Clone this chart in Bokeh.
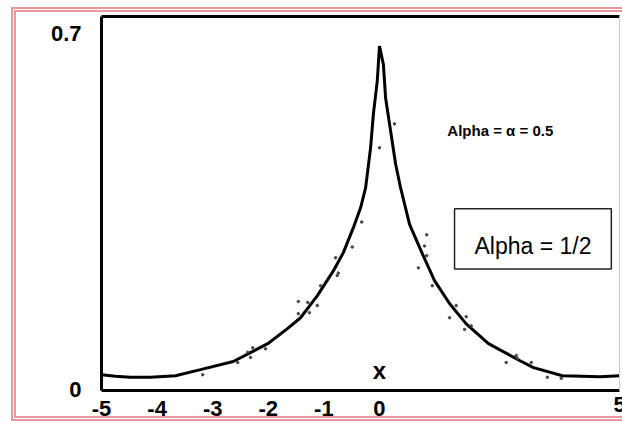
from bokeh.plotting import figure
from bokeh.models import (Range1d, LinearAxis, FixedTicker, Label,
                          BoxAnnotation, InlineStyleSheet)
from bokeh.embed import file_html
from bokeh.resources import INLINE

# Density curve f(x) (left tail -> peak -> right tail)
curve_x = [-5.0, -4.75, -4.48, -4.12, -3.67, -3.22, -2.63, -2.01, -1.65, -1.42, -1.12,
           -0.83, -0.65, -0.47, -0.34, -0.25, -0.16, -0.11, -0.04, 0.0,
           0.07, 0.11, 0.20, 0.29, 0.38, 0.54, 0.59, 0.77, 0.99, 1.26, 1.56,
           1.96, 2.52, 2.77, 3.29, 3.97, 4.32]
curve_y = [0.029, 0.026, 0.024, 0.024, 0.027, 0.039, 0.055, 0.090, 0.120, 0.141, 0.184,
           0.233, 0.269, 0.318, 0.357, 0.396, 0.475, 0.541, 0.606, 0.675,
           0.639, 0.573, 0.508, 0.443, 0.396, 0.325, 0.312, 0.267, 0.214, 0.169, 0.129,
           0.090, 0.057, 0.043, 0.027, 0.025, 0.027]

# Scattered sample points around the curve
sample_x = [-0.79, -0.74, -0.76, -1.06, -1.46, -1.29, -1.12, -1.46, -1.26,
            -2.28, -2.37, -2.32, -2.05, -2.55, -3.18, -0.32, -0.49, 0.0, 0.27,
            0.85, 0.81, 0.85, 0.70, 0.95, 1.38, 1.26, 1.56, 1.53, 1.65,
            2.28, 2.46, 2.48, 2.73, 3.02, 3.27]
sample_y = [0.259, 0.229, 0.224, 0.204, 0.173, 0.171, 0.165, 0.149, 0.151,
            0.082, 0.073, 0.063, 0.080, 0.053, 0.029, 0.329, 0.280, 0.475, 0.522,
            0.304, 0.282, 0.263, 0.239, 0.204, 0.165, 0.141, 0.143, 0.118, 0.125,
            0.053, 0.067, 0.061, 0.053, 0.024, 0.022]

x_ticks = [-5, -4, -3, -2, -1, 0]
x_tick_labels = {-5: "-5", -4: "-4", -3: "-3", -2: "-2", -1: "-1", 0: "0"}
x_end_label = "5"
y_ticks = [0, 0.7]
y_tick_labels = {0: "0", 0.7: "0.7"}

FONT = "Liberation Sans"

p = figure(width=622, height=421, output_backend="svg", toolbar_location=None,
           x_range=Range1d(-5, 4.317), y_range=Range1d(-0.002, 0.733),
           min_border_left=101, min_border_right=3, min_border_top=16,
           min_border_bottom=31, background_fill_color="white",
           border_fill_color="white", outline_line_color=None)
p.xgrid.visible = False
p.ygrid.visible = False

xax = p.below[0]
xax.ticker = FixedTicker(ticks=x_ticks)
xax.major_label_overrides = x_tick_labels
yax = p.left[0]
yax.ticker = FixedTicker(ticks=y_ticks)
yax.major_label_overrides = y_tick_labels
for ax in (xax, yax):
    ax.axis_line_width = 3
    ax.axis_line_color = "black"
    ax.major_tick_line_color = None
    ax.minor_tick_line_color = None
    ax.major_label_text_font = FONT
    ax.major_label_text_font_style = "bold"
    ax.major_label_text_font_size = "22px"
    ax.major_label_text_color = "black"
xax.major_label_standoff = 4
yax.major_label_standoff = 14

# the right-hand end of the x axis carries its own label
xax.axis_label = x_end_label
xax.axis_label_align = "end"
xax.axis_label_text_align = "right"
xax.axis_label_standoff = -22
xax.axis_label_text_font = FONT
xax.axis_label_text_font_style = "bold"
xax.axis_label_text_font_size = "22px"
xax.axis_label_text_color = "black"

# frame: heavy top edge, thin grey right edge
top = LinearAxis(ticker=FixedTicker(ticks=[]), axis_line_width=3,
                 axis_line_color="black", major_tick_line_color=None,
                 minor_tick_line_color=None)
p.add_layout(top, "above")
right = LinearAxis(ticker=FixedTicker(ticks=[]), axis_line_width=1,
                   axis_line_color="#c8c8c8", major_tick_line_color=None,
                   minor_tick_line_color=None)
p.add_layout(right, "right")

p.line(curve_x, curve_y, line_color="black", line_width=3)
p.scatter(sample_x, sample_y, size=2.5, color="#444444")

p.add_layout(Label(x=-6.51, y=0.42, text="f(x)", text_font=FONT,
                   text_font_style="bold", text_font_size="23px",
                   text_color="black", text_align="left",
                   text_baseline="alphabetic"))
p.add_layout(Label(x=0, y=0.037, text="x", text_font=FONT,
                   text_font_style="bold", text_font_size="24px",
                   text_color="black", text_align="center",
                   text_baseline="alphabetic"))
p.add_layout(Label(x=1.22, y=0.508, text="Alpha = α = 0.5", text_font=FONT,
                   text_font_style="bold", text_font_size="15px",
                   text_color="black", text_align="left",
                   text_baseline="alphabetic"))
p.add_layout(BoxAnnotation(left=1.35, right=4.17, bottom=0.237, top=0.355,
                           fill_color=None, line_color="#222222",
                           line_alpha=1.0, line_width=1.5))
p.add_layout(Label(x=2.76, y=0.282, text="Alpha = 1/2", text_font=FONT,
                   text_font_size="23px", text_color="black",
                   text_align="center", text_baseline="alphabetic"))

# double pink border around the page
p.stylesheets = [InlineStyleSheet(css="""
:host::after { content: ''; position: absolute; left: 11px; top: 7px;
  right: -40px; bottom: 0px; border: 5px double #e8999b;
  pointer-events: none; }
""")]

open("out.html", "w").write(file_html(p, INLINE))
